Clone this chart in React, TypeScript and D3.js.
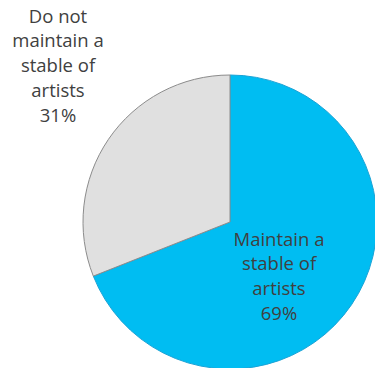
import React from "react";
import * as d3 from "d3";

const categories = ["Maintain a stable of artists", "Do not maintain a stable of artists"];
const values = [69, 31];
const labelLines = [
  ["Maintain a", "stable of", "artists", "69%"],
  ["Do not", "maintain a", "stable of", "artists", "31%"],
];

const W = 375;
const H = 368;
const cx = 230;
const cy = 222;
const R = 147;
const fills = ["#00BDF2", "#E0E0E0"];
const strokes = ["#1BA3D6", "#8C8C8C"];
const labelPos = [
  { x: 279, y: 245.5 },
  { x: 58, y: 22.5 },
];

export default function App() {
  const pie = d3.pie<number>().sort(null).value((d) => d);
  const arcs = pie(values);
  const arc = d3.arc<d3.PieArcDatum<number>>().innerRadius(0).outerRadius(R);
  return (
    <svg width={W} height={H} style={{ position: "absolute", left: 0, top: 0 }}>
      <rect width={W} height={H} fill="#fff" />
      <g transform={`translate(${cx},${cy})`}>
        {arcs.map((a, i) => (
          <path key={categories[i]} d={arc(a) || ""} fill={fills[i]} stroke={strokes[i]} strokeWidth={1} />
        ))}
      </g>
      {labelLines.map((lines, i) => (
        <text
          key={i}
          x={labelPos[i].x}
          y={labelPos[i].y}
          textAnchor="middle"
          fontFamily="'Open Sans', sans-serif"
          fontSize={18.5}
          fill="#404040"
        >
          {lines.map((l, j) => (
            <tspan key={j} x={labelPos[i].x} y={labelPos[i].y + j * 24.8}>
              {l}
            </tspan>
          ))}
        </text>
      ))}
    </svg>
  );
}
